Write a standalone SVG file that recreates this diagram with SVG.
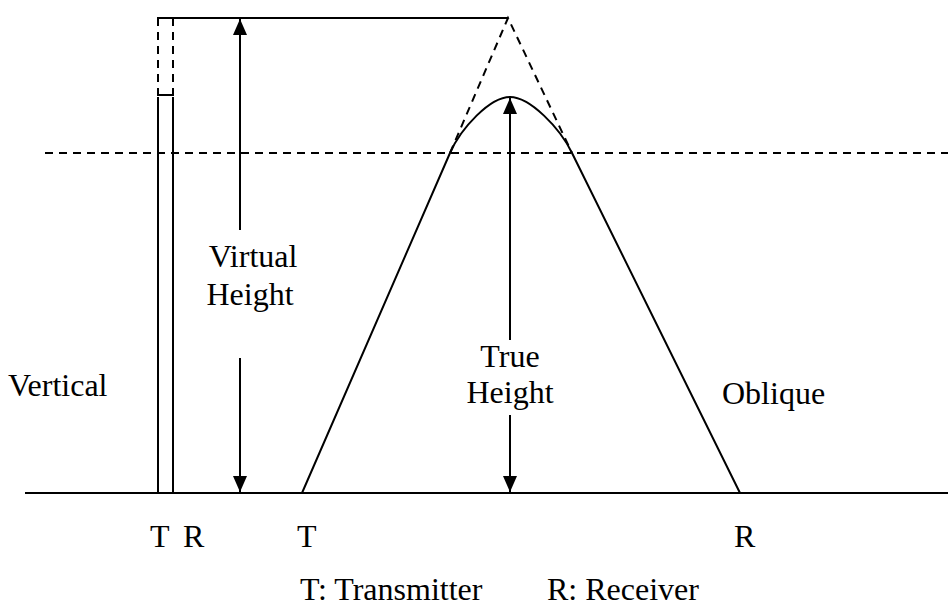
<svg xmlns="http://www.w3.org/2000/svg" width="948" height="610" viewBox="0 0 948 610">
<style>
.s{fill:none;stroke:#000;stroke-width:2}
.d{fill:none;stroke:#000;stroke-width:2;stroke-dasharray:8 6}
.t{font-family:"Liberation Serif","Times New Roman",serif;font-size:32px;fill:#000}
</style>
<defs>
<marker id="ah" viewBox="0 0 16 14" refX="16" refY="7" markerWidth="16" markerHeight="14" markerUnits="userSpaceOnUse" orient="auto">
<path d="M0,0 L16,7 L0,14 Z" fill="#000"/>
</marker>
</defs>
<rect width="948" height="610" fill="#fff"/>
<g id="ground">
<line class="s" x1="25" y1="493" x2="948" y2="493"/>
</g>
<g id="ionosphere">
<line class="d" x1="45" y1="153" x2="948" y2="153"/>
</g>
<g id="vertical-path">
<line class="s" x1="158" y1="97" x2="158" y2="493"/>
<line class="s" x1="173" y1="97" x2="173" y2="493"/>
<line class="d" x1="158" y1="18" x2="158" y2="95"/>
<line class="d" x1="173" y1="18" x2="173" y2="95"/>
<line class="s" x1="157" y1="95" x2="174" y2="95"/>
<line class="s" x1="157" y1="18" x2="508" y2="18"/>
</g>
<g id="oblique-path">
<path class="s" d="M302,493 L450,153 C461,128 490,97 510,97 C530,97 560,128 572,153 L740,493"/>
<path class="d" d="M450,153 L508,18 L572,153"/>
</g>
<g id="connectors">
<line class="s" x1="240" y1="230" x2="240" y2="19" marker-end="url(#ah)"/>
<line class="s" x1="240" y1="358" x2="240" y2="492" marker-end="url(#ah)"/>
<line class="s" x1="510" y1="340" x2="510" y2="98" marker-end="url(#ah)"/>
<line class="s" x1="510" y1="415" x2="510" y2="492" marker-end="url(#ah)"/>
</g>
<g id="labels">
<text class="t" x="253" y="267" text-anchor="middle">Virtual</text>
<text class="t" x="250" y="305" text-anchor="middle">Height</text>
<text class="t" x="510" y="367" text-anchor="middle">True</text>
<text class="t" x="510" y="403" text-anchor="middle">Height</text>
<text class="t" x="8" y="396">Vertical</text>
<text class="t" x="722" y="404">Oblique</text>
<text class="t" x="150" y="547">T</text>
<text class="t" x="183" y="547">R</text>
<text class="t" x="297" y="547">T</text>
<text class="t" x="734" y="547">R</text>
<text class="t" x="300" y="600">T: Transmitter</text>
<text class="t" x="547" y="600">R: Receiver</text>
</g>
</svg>
